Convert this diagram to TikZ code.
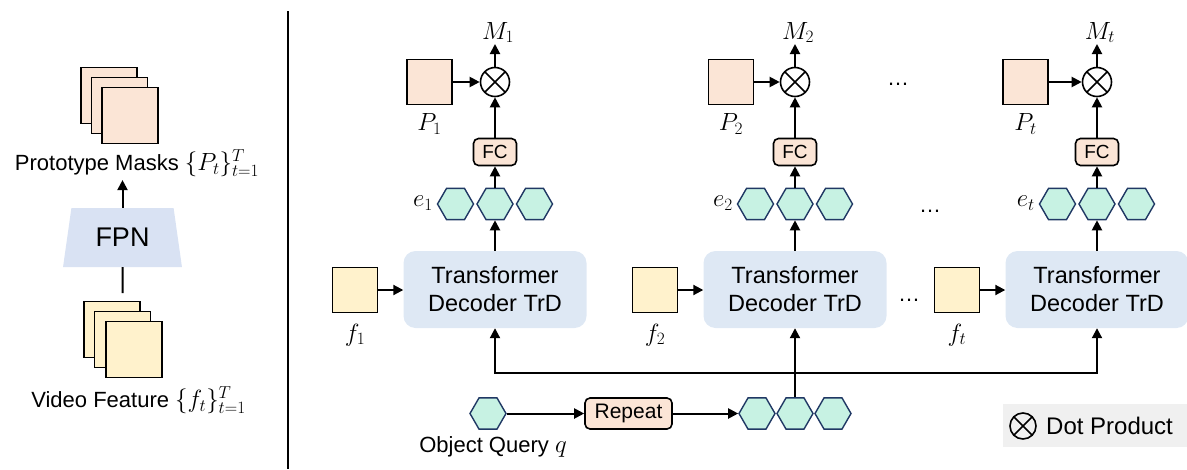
\documentclass[tikz,border=0pt]{standalone}
\usepackage{fontspec}
\setmainfont{Liberation Sans}
\usetikzlibrary{arrows.meta,shapes.geometric,calc}

\definecolor{peach}{HTML}{FBE5D6}
\definecolor{cream}{HTML}{FFF2CC}
\definecolor{mint}{HTML}{C7F2E3}
\definecolor{hexedge}{HTML}{203864}
\definecolor{decoder}{HTML}{DEE8F4}
\definecolor{fpnblue}{HTML}{D9E2F3}
\definecolor{legendgray}{HTML}{F0F0F0}

\newcommand{\mathbig}{\fontsize{26}{30}\selectfont}

\tikzset{
  tip/.tip={Triangle[length=10pt,width=10pt]},
  arr/.style={line width=2pt, -tip},
  plain/.style={line width=2pt},
  sq/.style={draw, line width=1.6pt, minimum size=45pt, inner sep=0pt},
  bigsq/.style={draw, line width=1.6pt, minimum size=56pt, inner sep=0pt},
  token/.style={regular polygon, regular polygon sides=6, minimum size=36pt,
    inner sep=0pt, draw=hexedge, fill=mint, line width=1.4pt},
  fcbox/.style={draw, fill=peach, rounded corners=5pt, line width=1.6pt,
    minimum width=43pt, minimum height=27pt, inner sep=0pt,
    font=\fontsize{19}{22}\selectfont},
  dec/.style={fill=decoder, rounded corners=12pt, minimum width=183pt,
    minimum height=77pt, align=center, inner sep=0pt,
    font=\fontsize{23.5}{28}\selectfont},
  mlab/.style={inner sep=1pt, font=\mathbig},
  prod/.style={circle, draw, line width=1.6pt, minimum size=29pt, inner sep=0pt,
    path picture={
      \draw[line width=1.6pt]
        (path picture bounding box.north west) -- (path picture bounding box.south east)
        (path picture bounding box.north east) -- (path picture bounding box.south west);
    }},
}

\begin{document}
\begin{tikzpicture}[x=1pt, y=-1pt, font=\fontsize{22}{26}\selectfont]
\useasboundingbox (0,0) rectangle (1187,469);

% ---------- left panel: FPN producing prototype masks ----------
\node[bigsq, fill=peach] (pm1) at (109,95.5) {};
\node[bigsq, fill=peach] (pm2) at (119.5,105.5) {};
\node[bigsq, fill=peach] (pm3) at (130,115.5) {};
\node (pmlab) at (137,163) {Prototype Masks {\mathbig$\{P_t\}_{t=1}^{T}$}};

\node[trapezium, trapezium stretches=true, trapezium left angle=76.6,
      trapezium right angle=76.6, minimum width=119pt, minimum height=59pt,
      fill=fpnblue, inner sep=0pt, font=\fontsize{27}{30}\selectfont]
      (fpn) at (122.5,237.5) {FPN};
\coordinate (vtop) at (122.5,293);

\node[bigsq, fill=cream] (vf1) at (112,329.5) {};
\node[bigsq, fill=cream] (vf2) at (122.5,339.5) {};
\node[bigsq, fill=cream] (vf3) at (134,349.5) {};
\node (vflab) at (138.5,400) {Video Feature {\mathbig$\{f_t\}_{t=1}^{T}$}};

\draw[arr] (fpn.north) -- (fpn.north |- pmlab.south);
\draw[plain] (fpn.south) -- (vtop);

% separator
\draw[line width=2.4pt] (288,11) -- (288,469);

% ---------- right panel: one decoder stage per frame ----------
\foreach \s/\cx/\px in {1/495/429.5, 2/795/731, t/1097/1025.5} {
  \node[prod] (ox\s) at (\cx,82) {};
  \node[mlab, anchor=south] (m\s) at (\cx+3,44) {$M_{\s}$};
  \node[sq, fill=peach] (p\s) at (\px,82) {};
  \node[mlab] (pl\s) at (\px,124) {$P_{\s}$};
  \node[fcbox] (fc\s) at (\cx,152) {FC};
  \node[token] (ea\s) at (\cx-39.5,204) {};
  \node[token] (eb\s) at (\cx,204) {};
  \node[token] (ec\s) at (\cx+39.5,204) {};
  \node[mlab, anchor=east] (el\s) at (\cx-61,203) {$e_{\s}$};
  \node[dec] (tr\s) at (\cx,289.5) {Transformer\\Decoder TrD};
  \node[sq, fill=cream] (f\s) at (\cx-140,290) {};
  \node[mlab] (fl\s) at (\cx-140,335) {$f_{\s}$};

  \draw[arr] (ox\s.north) -- (ox\s.north |- m\s.south);
  \draw[arr] (p\s) -- (ox\s);
  \draw[arr] (fc\s) -- (ox\s);
  \draw[arr] (eb\s) -- (fc\s);
  \draw[arr] (tr\s) -- (eb\s);
  \draw[arr] (f\s.east) -- (f\s.east -| tr\s.west);
}

% ellipses between stages
\node[anchor=base] (dtop) at (898,85) {\dots};
\node[anchor=base] (dmid) at (930,212) {\dots};
\node[anchor=base] (dlow) at (909,301) {\dots};

% ---------- object query and its repetition ----------
\node[token] (q) at (488,413.5) {};
\node[fcbox, minimum width=87pt, minimum height=31pt,
      font=\fontsize{21}{24}\selectfont] (rep) at (628.5,413.5) {Repeat};
\node[token] (qa) at (757,413.5) {};
\node[token] (qb) at (795,413.5) {};
\node[token] (qc) at (833,413.5) {};
\node (qlab) at (493,447) {Object Query {\mathbig$q$}};

\draw[arr] (q) -- (rep);
\draw[arr] (rep) -- (qa);
\coordinate (bus) at (795,373);
\draw[arr] (qb) -- (tr2);
\draw[plain, tip-tip] (tr1.south) -- (tr1.south |- bus) -- (trt.south |- bus) -- (trt.south);

% ---------- legend ----------
\node[fill=legendgray, minimum width=184pt, minimum height=43pt, inner sep=0pt]
      (leg) at (1095,425.5) {};
\node[prod, minimum size=26pt] (legox) at (1023,426) {};
\node[anchor=west, inner sep=0pt, font=\fontsize{24}{28}\selectfont]
      (legtxt) at (1046,426) {Dot Product};
\end{tikzpicture}
\end{document}
